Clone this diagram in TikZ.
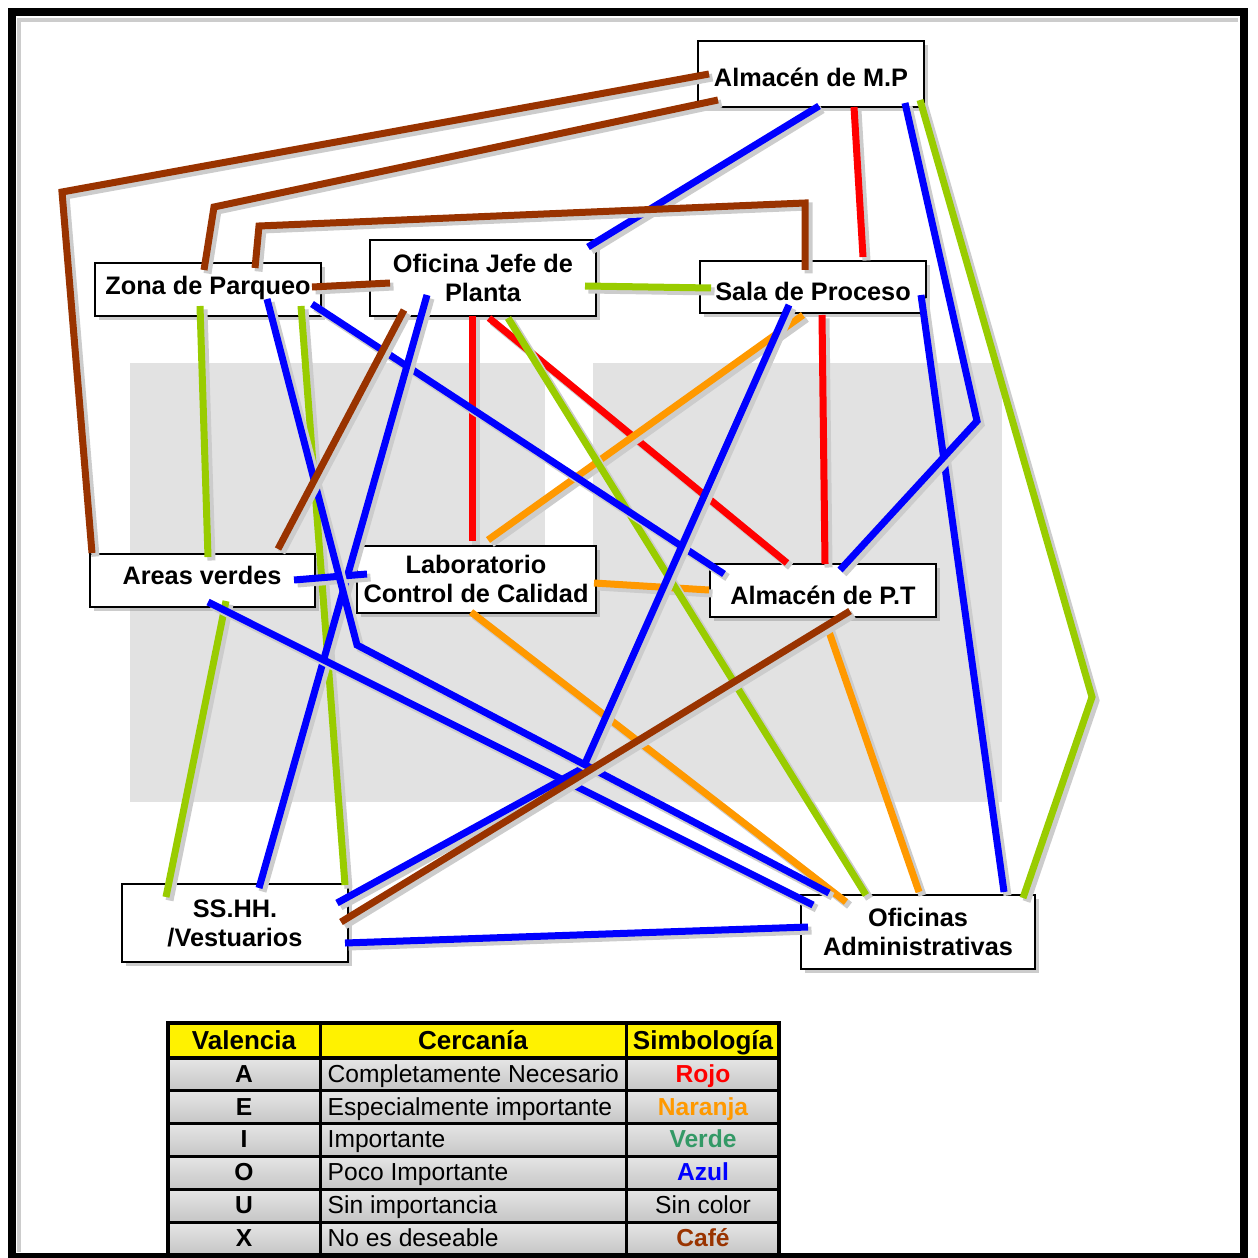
\documentclass[tikz,border=0pt]{standalone}
\usepackage{fontspec}
\setmainfont{Liberation Sans}
\usepackage{xcolor}
\usetikzlibrary{calc, shadows}

\definecolor{rojo}{RGB}{255,0,0}
\definecolor{naranja}{RGB}{255,153,0}
\definecolor{verde}{RGB}{153,204,0}
\definecolor{verdetxt}{RGB}{51,153,102}
\definecolor{azul}{RGB}{0,0,255}
\definecolor{cafe}{RGB}{153,51,0}
\definecolor{marca}{RGB}{226,226,226}

\begin{document}
\begin{tikzpicture}[x=0.1mm, y=-0.1mm,
  area/.style={draw=black, line width=0.2mm, fill=white, inner sep=0pt,
    align=center, minimum width=22.6mm,
    font=\bfseries\fontsize{7.2}{8.3}\selectfont,
    drop shadow={shadow xshift=0.4mm, shadow yshift=-0.4mm,
      fill=black!40, opacity=0.5}},
  alto/.style={text height=#1, text depth=0.5mm},
  lazo/.style={line width=0.7mm,
    preaction={draw=black!20, line width=0.8mm,
      transform canvas={shift={(0.35mm,-0.35mm)}}}},
  celda/.style={inner sep=0pt, text height=1.9mm, text depth=0.45mm,
    font=\fontsize{7.0}{8}\selectfont},
  cabeza/.style={celda, font=\bfseries\fontsize{7.4}{8}\selectfont}]

\useasboundingbox (0,0) rectangle (1257,1258);

%-- faded crest behind the diagram
\fill[marca] (130,363) rectangle (1002,802);
\fill[white] (545,363) rectangle (593,545);

%-- frame
\draw[line width=0.8mm] (12,12) rectangle (1244,1257);
\draw[gray!40, line width=0.4mm] (17,20) -- (1238,20);
\draw[gray!40, line width=0.4mm] (19,20) -- (19,1252);

%-- areas
\node[area, alto=2.92mm, minimum height=6.6mm] (mp)  at (811,74)  {Almacén de M.P};
\node[area, alto=1.32mm, minimum height=5.3mm] (zp)  at (208,290) {Zona de Parqueo};
\node[area, minimum height=7.6mm] (oj)  at (483,278) {Oficina Jefe de\\Planta};
\node[area, alto=3.12mm, minimum height=5.2mm] (sp)  at (813,287) {Sala de Proceso};
\node[area, alto=1.32mm, minimum height=5.3mm, minimum width=22.5mm] (av) at (202,580) {Areas verdes};
\node[area, minimum height=6.7mm, minimum width=23.9mm] (lab) at (476,579) {Laboratorio\\Control de Calidad};
\node[area, alto=3.32mm, minimum height=5.3mm] (pt)  at (823,590) {Almacén de P.T};
\node[area, minimum height=7.8mm] (ss)  at (235,923) {SS.HH.\\/Vestuarios};
\node[area, minimum height=7.4mm, minimum width=23.4mm] (ofi) at (918,932) {Oficinas\\Administrativas};

%-- bends
\coordinate (q1) at (62,192);
\coordinate (q2) at (214,207);
\coordinate (q3) at (805,203);
\coordinate (q4) at (259,226);
\coordinate (q5) at (1092,697);
\coordinate (q6) at (977,421);
\coordinate (q7) at (583,768);
\coordinate (q8) at (357,645);

%-- A: rojo
\foreach \s/\sx/\sy/\e/\ex/\ey in {mp/43/33/sp/50/-30, oj/-11/38/lab/-4/-38,
    oj/6/40/pt/-36/-27, sp/9/28/pt/2/-26}
  \draw[lazo, rojo] ($(\s)+(\sx,\sy)$) -- ($(\e)+(\ex,\ey)$);

%-- E: naranja
\foreach \s/\sx/\sy/\e/\ex/\ey in {sp/-10/28/lab/12/-39, lab/118/4/pt/-114/0,
    lab/-5/33/ofi/-72/-30, pt/4/36/ofi/1/-40}
  \draw[lazo, naranja] ($(\s)+(\sx,\sy)$) -- ($(\e)+(\ex,\ey)$);

%-- I: verde
\foreach \s/\sx/\sy/\e/\ex/\ey in {oj/102/8/sp/-102/1, zp/-8/16/av/6/-23,
    zp/93/16/ss/110/-38, av/24/21/ss/-69/-26, oj/25/40/ofi/-52/-37}
  \draw[lazo, verde] ($(\s)+(\sx,\sy)$) -- ($(\e)+(\ex,\ey)$);
\draw[lazo, verde] ($(mp)+(109,26)$) -- (q5) -- ($(ofi)+(105,-34)$);

%-- O: azul
\foreach \s/\sx/\sy/\e/\ex/\ey in {mp/8/32/oj/105/-31, sp/108/8/ofi/86/-40,
    zp/104/14/pt/-99/-16, oj/-56/17/ss/24/-35, av/92/0/lab/-109/-5,
    av/6/22/ofi/-105/-27, ss/110/20/ofi/-110/-5}
  \draw[lazo, azul] ($(\s)+(\sx,\sy)$) -- ($(\e)+(\ex,\ey)$);
\draw[lazo, azul] ($(mp)+(94,29)$) -- (q6) -- ($(pt)+(17,-20)$);
\draw[lazo, azul] ($(sp)+(-24,18)$) -- (q7) -- ($(ss)+(102,-20)$);
\draw[lazo, azul] ($(zp)+(59,9)$) -- (q8) -- ($(ofi)+(-89,-39)$);

%-- X: cafe
\foreach \s/\sx/\sy/\e/\ex/\ey in {zp/104/-3/oj/-93/5, oj/-79/32/av/76/-31,
    pt/27/21/ss/106/-1}
  \draw[lazo, cafe] ($(\s)+(\sx,\sy)$) -- ($(\e)+(\ex,\ey)$);
\draw[lazo, cafe] ($(mp)+(-102,0)$) -- (q1) -- ($(av)+(-110,-27)$);
\draw[lazo, cafe] ($(mp)+(-93,26)$) -- (q2) -- ($(zp)+(-4,-20)$);
\draw[lazo, cafe] ($(sp)+(-8,-17)$) -- (q3) -- (q4) -- ($(zp)+(47,-22)$);

%-- legend table
\fill[yellow] (168,1023) rectangle (779,1058);
\node[cabeza] (hv) at (244,1042) {Valencia};
\node[cabeza] (hc) at (473,1042) {Cercanía};
\node[cabeza] (hs) at (703,1042) {Simbología};

\foreach \v/\t/\s/\c/\f [count=\i] in {A/Completamente Necesario/Rojo/rojo/\bfseries,
    E/Especialmente importante/Naranja/naranja/\bfseries,
    I/Importante/Verde/verdetxt/\bfseries,
    O/Poco Importante/Azul/azul/\bfseries,
    U/Sin importancia/Sin color/black/\mdseries,
    X/No es deseable/Café/cafe/\bfseries}{
  \pgfmathsetmacro\yt{1058+32.8*(\i-1)}
  \pgfmathsetmacro\ym{\yt+17}
  \shade[top color=gray!20, middle color=white, bottom color=gray!45]
    (168,\yt) rectangle (779,\yt+32.8);
  \node[celda] (v\i) at (244,\ym) {\bfseries\v};
  \node[celda, anchor=west] (t\i) at (327,\ym) {\t};
  \node[celda, text=\c] (s\i) at (703,\ym) {\f\s};
}

\foreach \i in {1,...,5}
  \draw[line width=0.3mm] (168,1058+32.8*\i) -- (779,1058+32.8*\i);
\draw[line width=0.4mm] (168,1058) -- (779,1058);
\draw[line width=0.3mm] (320,1023) -- (320,1255) (626,1023) -- (626,1255);
\draw[line width=0.45mm] (168,1023) rectangle (779,1255);

\end{tikzpicture}
\end{document}
